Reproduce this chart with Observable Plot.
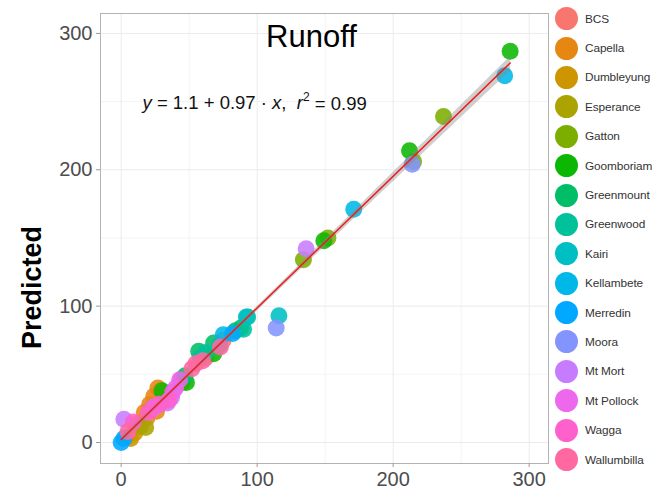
<!DOCTYPE html>
<html>
<head>
<meta charset="utf-8">
<script src="https://cdn.jsdelivr.net/npm/d3@7"></script>
<script src="https://cdn.jsdelivr.net/npm/@observablehq/plot@0.6"></script>
<style>
  html, body { margin:0; padding:0; background:#fff; overflow:hidden; }
  #wrap { position:relative; width:654px; height:495px; font-family:"Liberation Sans", Arial, sans-serif; }
  #legend { position:absolute; left:555px; top:4px; }
  .row { display:flex; align-items:center; height:29.4px; white-space:nowrap; }
  .key { width:23px; height:23px; border-radius:50%; margin-right:7px; flex:none; }
  .lab { font-size:11.8px; color:#333; letter-spacing:-0.1px; }
  svg g[aria-label$="axis tick"] { stroke:#9a9a9a; }
</style>
</head>
<body>
<div id="wrap"><div id="legend"></div></div>
<script>
// ---- data ----
const sites = ["BCS","Capella","Dumbleyung","Esperance","Gatton","Goomboriam","Greenmount","Greenwood",
  "Kairi","Kellambete","Merredin","Moora","Mt Mort","Mt Pollock","Wagga","Wallumbilla"];

const pointSite = [
  "BCS","BCS","BCS","BCS","BCS",
  "Capella","Capella","Capella","Capella","Capella","Capella","Capella","Capella","Capella",
  "Dumbleyung","Dumbleyung","Dumbleyung",
  "Esperance","Esperance",
  "Gatton","Gatton","Gatton","Gatton","Gatton",
  "Goomboriam","Goomboriam","Goomboriam","Goomboriam","Goomboriam","Goomboriam",
  "Greenmount","Greenmount","Greenmount","Greenmount","Greenmount",
  "Greenwood","Greenwood","Greenwood","Greenwood","Greenwood",
  "Kairi","Kairi",
  "Kellambete","Kellambete","Kellambete",
  "Merredin","Merredin","Merredin",
  "Moora","Moora",
  "Mt Mort","Mt Mort","Mt Mort","Mt Mort","Mt Mort",
  "Mt Pollock","Mt Pollock","Mt Pollock","Mt Pollock",
  "Wagga","Wagga","Wagga","Wagga",
  "Wallumbilla","Wallumbilla","Wallumbilla","Wallumbilla","Wallumbilla"
];
const observed = [
  35,44,62,75,22,
  12,17,21,24,27,29,26,31,19,
  7,10,4,
  18,14,
  237,215,152,134,45,
  286,212,149,68,48,30,
  57,68,88,47,84,
  58,93,90,62,72,
  116,92,
  282,171,75,
  0,82,2,
  214,114,
  136,2,34,37,25,
  40,43,24,38,
  9,20,35,28,
  52,73,60,5,55
];
const predicted = [
  36,46,62,75,25,
  14,22,28,34,40,38,23,30,18,
  3,7,4,
  11,12,
  239,206,150,134,44,
  287,214,148,65,44,38,
  67,73,84,49,82,
  62,92,83,66,71,
  93,92,
  269,171,79,
  0,80,3,
  204,84,
  142,17,29,33,26,
  40,46,26,37,
  15,22,31,28,
  54,70,60,8,58
];
const xTicks = [0,100,200,300];
const minorTicks = [50,150,250];
const chartTitle = "Runoff";
const yLabel = "Predicted";

// ggplot2 hue palette (polar LUV, c=100, l=65)
function hclLuv(h, c, l) {
  const hr = h * Math.PI / 180, U = c * Math.cos(hr), V = c * Math.sin(hr);
  const Xn = 95.047, Yn = 100, Zn = 108.883;
  const d = Xn + 15 * Yn + 3 * Zn, un = 4 * Xn / d, vn = 9 * Yn / d;
  const Y = Yn * (l > 8 ? Math.pow((l + 16) / 116, 3) : l / 903.3);
  const u = U / (13 * l) + un, v = V / (13 * l) + vn;
  const X = 9 * Y * u / (4 * v), Z = (12 - 3 * u - 20 * v) * Y / (4 * v);
  const x = X / 100, y = Y / 100, z = Z / 100;
  const lin = [3.240479*x - 1.537150*y - 0.498535*z,
              -0.969256*x + 1.875992*y + 0.041556*z,
               0.055648*x - 0.204043*y + 1.057311*z];
  const g = lin.map(t => { t = t <= 0.0031308 ? 12.92 * t : 1.055 * Math.pow(t, 1/2.4) - 0.055; return Math.round(Math.max(0, Math.min(1, t)) * 255); });
  return d3.rgb(g[0], g[1], g[2]).formatHex();
}
const palette = sites.map((s, i) => hclLuv(15 + 360 * i / sites.length, 100, 65));

const data = pointSite.map((s, i) => ({site: s, obs: observed[i], pred: predicted[i]}));

const eqText = "y = 1.1 + 0.97 · x,  r2 = 0.99";

const plot = Plot.plot({
  width: 654, height: 495,
  marginLeft: 100, marginRight: 106, marginTop: 13, marginBottom: 32,
  style: {fontFamily: "'Liberation Sans', Arial, sans-serif", background: "#fff"},
  x: {domain: [-15.2, 314.2]},
  y: {domain: [-15.4, 314.6]},
  color: {domain: sites, range: palette},
  marks: [
    Plot.gridX(minorTicks, {stroke: "#f4f4f4", strokeOpacity: 1}),
    Plot.gridY(minorTicks, {stroke: "#f4f4f4", strokeOpacity: 1}),
    Plot.gridX(xTicks, {stroke: "#ebebeb", strokeOpacity: 1}),
    Plot.gridY(xTicks, {stroke: "#ebebeb", strokeOpacity: 1}),
    Plot.frame({stroke: "#b3b3b3"}),
    Plot.axisX({ticks: xTicks, tickSize: 4, tickPadding: 4, fontSize: 20, color: "#4d4d4d", label: null}),
    Plot.axisY({ticks: xTicks, tickSize: 4, tickPadding: 4, fontSize: 20, color: "#4d4d4d", label: null}),
    Plot.dot(data, {x: "obs", y: "pred", fill: "site", r: 8.5, fillOpacity: 0.88}),
    Plot.linearRegressionY(data, {x: "obs", y: "pred", stroke: "#ee1c1c", strokeWidth: 1.5, fill: "#888", fillOpacity: 0.4}),
    Plot.text([chartTitle], {frameAnchor: "top", text: d => d, dx: -13, dy: 11, fontSize: 31, fill: "#000"}),
    Plot.text([eqText], {frameAnchor: "top-left", text: d => d, textAnchor: "start", dx: 42, dy: 82, fontSize: 18.5, fill: "#111"}),
    Plot.text([yLabel], {frameAnchor: "left", text: d => d, textAnchor: "middle", rotate: -90, dx: -68, dy: 49, fontSize: 27, fontWeight: "bold", fill: "#000"})
  ]
});
document.getElementById("wrap").prepend(plot);

// rebuild the equation with italics and superscript
d3.select(plot).selectAll("text").filter(function() { return this.textContent === eqText; }).each(function() {
  const t = d3.select(this);
  t.text(null);
  const parts = [["y", true], [" = 1.1 + 0.97 · ", false], ["x", true], [",  ", false], ["r", true]];
  parts.forEach(([s, it]) => t.append("tspan").attr("font-style", it ? "italic" : null).attr("xml:space", "preserve").text(s));
  t.append("tspan").attr("font-size", 12).attr("dy", "-0.6em").text("2");
  t.append("tspan").attr("dy", "0.45em").text(" = 0.99");
});

// legend
const leg = d3.select("#legend");
sites.forEach((s, i) => {
  const row = leg.append("div").attr("class", "row");
  row.append("span").attr("class", "key").style("background", palette[i]);
  row.append("span").attr("class", "lab").text(s);
});
</script>
</body>
</html>
